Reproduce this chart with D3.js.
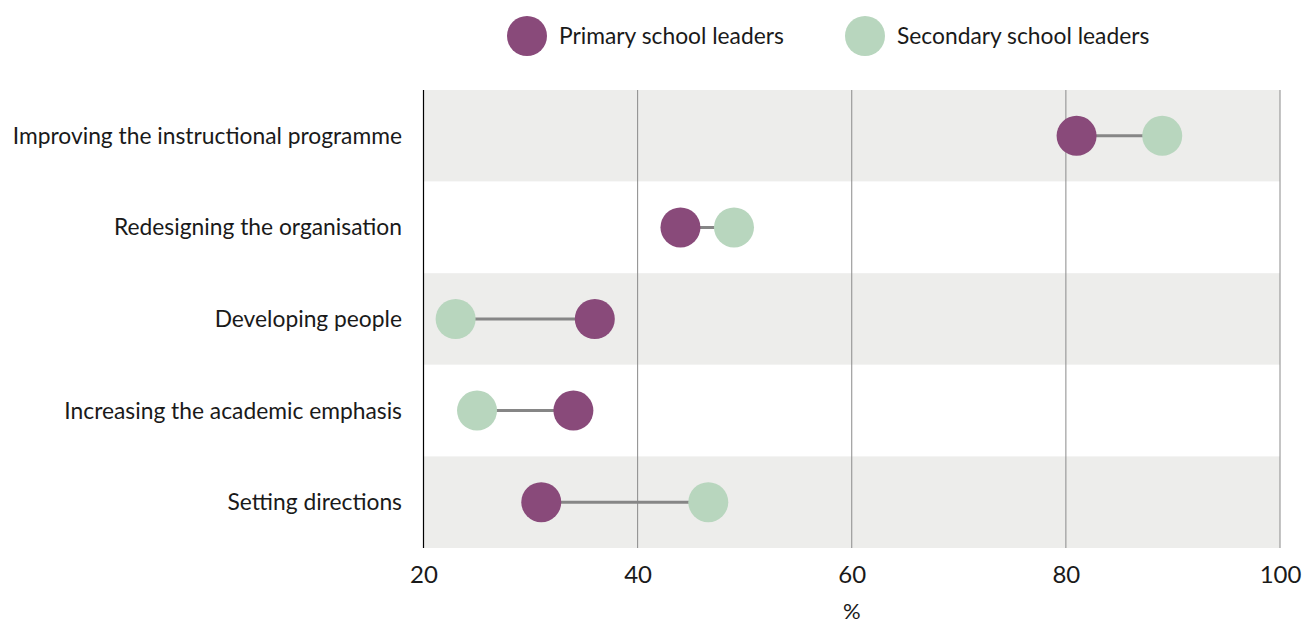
<!DOCTYPE html>
<html>
<head>
<meta charset="utf-8">
<script src="https://cdn.jsdelivr.net/npm/d3@7"></script>
<style>
body { margin: 0; background: #fff; }
text { font-family: Lato, "Noto Sans", sans-serif; fill: #1a1a1a; }
</style>
</head>
<body>
<svg id="chart" width="1302" height="626"></svg>
<script>
// data
var categories = ["Improving the instructional programme", "Redesigning the organisation",
  "Developing people", "Increasing the academic emphasis", "Setting directions"];
var primary = [81, 44, 36, 34, 31];
var secondary = [89, 49, 23, 25, 46.6];
var seriesNames = ["Primary school leaders", "Secondary school leaders"];
var xTicks = [20, 40, 60, 80, 100];

var colPrimary = "#894a7a", colSecondary = "#b8d6be";

var svg = d3.select("#chart");
var plotLeft = 423.5, plotRight = 1280, plotTop = 90, plotBottom = 548;

var x = d3.scaleLinear().domain([20, 100]).range([plotLeft, plotRight]);
var y = d3.scaleBand().domain(categories).range([plotTop, plotBottom]);

// row bands
svg.append("g").selectAll("rect").data(categories).enter().append("rect")
  .attr("x", plotLeft).attr("width", plotRight - plotLeft)
  .attr("y", function(d) { return y(d); })
  .attr("height", y.bandwidth())
  .attr("fill", function(d, i) { return i % 2 == 0 ? "#ededeb" : "#fff"; });

// grid lines
svg.append("g").selectAll("line").data(xTicks.slice(1)).enter().append("line")
  .attr("x1", function(d) { return x(d); }).attr("x2", function(d) { return x(d); })
  .attr("y1", plotTop).attr("y2", plotBottom)
  .attr("stroke", "#8a8a8a").attr("stroke-width", 1);
svg.append("line").attr("x1", plotLeft).attr("x2", plotLeft).attr("y1", plotTop).attr("y2", plotBottom)
  .attr("stroke", "#000").attr("stroke-width", 1.2);

// x axis labels
var xAxis = d3.axisBottom(x).tickValues(xTicks).tickSize(0).tickPadding(18);
var gx = svg.append("g").attr("transform", "translate(0," + plotBottom + ")").call(xAxis);
gx.select(".domain").remove();
gx.selectAll("text").style("font-family", "Lato, sans-serif").attr("font-size", 24).attr("fill", "#111");
svg.append("text").attr("x", (plotLeft + plotRight) / 2).attr("y", 619)
  .attr("text-anchor", "middle").attr("font-size", 22).text("%");

// category labels
svg.append("g").selectAll("text").data(categories).enter().append("text")
  .attr("x", 402).attr("y", function(d) { return y(d) + y.bandwidth() / 2; })
  .attr("dy", "0.35em").attr("text-anchor", "end").attr("font-size", 22.8)
  .text(function(d) { return d; });

// dumbbells
var rows = svg.append("g").selectAll("g").data(categories).enter().append("g")
  .attr("transform", function(d) { return "translate(0," + (y(d) + y.bandwidth() / 2) + ")"; });
rows.append("line")
  .attr("x1", function(d, i) { return x(primary[i]); })
  .attr("x2", function(d, i) { return x(secondary[i]); })
  .attr("stroke", "#868686").attr("stroke-width", 3);
rows.append("circle").attr("r", 20).attr("fill", colPrimary)
  .attr("cx", function(d, i) { return x(primary[i]); });
rows.append("circle").attr("r", 20).attr("fill", colSecondary)
  .attr("cx", function(d, i) { return x(secondary[i]); });

// legend
var legX = [527, 865];
var leg = svg.append("g").selectAll("g").data(seriesNames).enter().append("g")
  .attr("transform", function(d, i) { return "translate(" + legX[i] + ",36)"; });
leg.append("circle").attr("r", 20).attr("fill", function(d, i) { return i == 0 ? colPrimary : colSecondary; });
leg.append("text").attr("x", 32).attr("dy", "0.35em").attr("font-size", 22.8).text(function(d) { return d; });
</script>
</body>
</html>
